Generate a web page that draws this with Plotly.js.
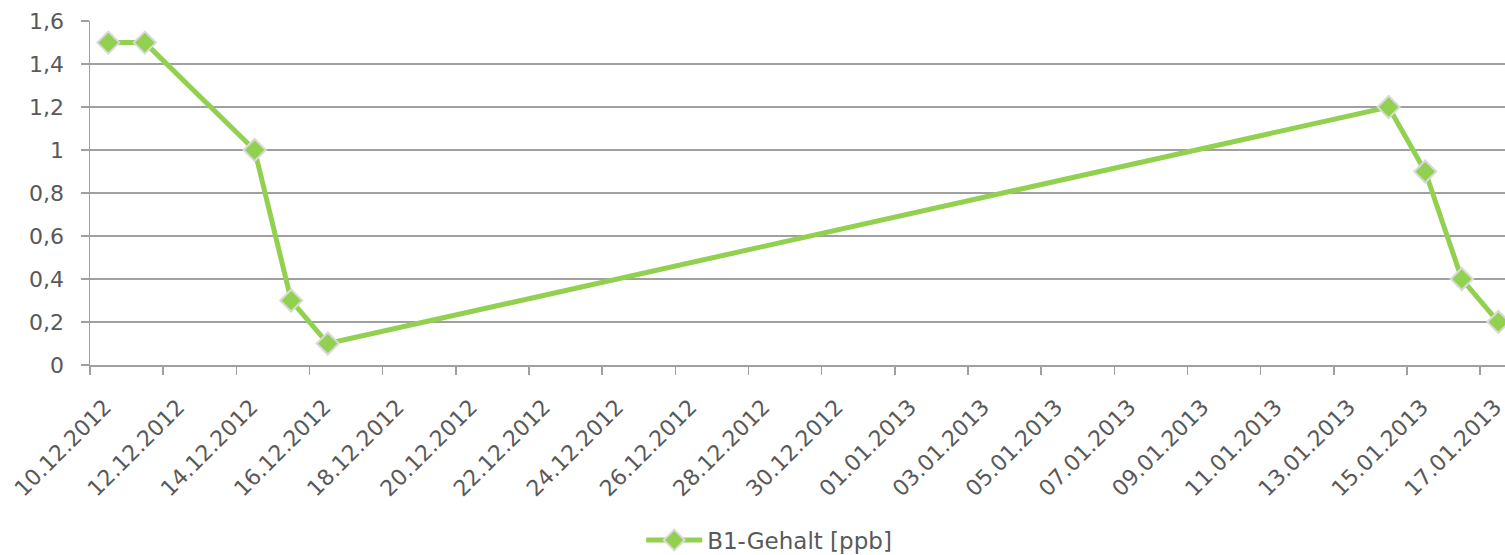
<!DOCTYPE html>
<html>
<head>
<meta charset="utf-8">
<script src="https://cdn.plot.ly/plotly-3.0.1.min.js"></script>
<style>html,body{margin:0;padding:0;background:#fff;}#chart{width:1505px;height:555px;}</style>
</head>
<body>
<div id="chart"></div>
<script>
// Sample dates (day centres) and B1 content values in ppb
const sampleDates = ["2012-12-10 12:00", "2012-12-11 12:00", "2012-12-14 12:00", "2012-12-15 12:00", "2012-12-16 12:00",
                     "2013-01-14 12:00", "2013-01-15 12:00", "2013-01-16 12:00", "2013-01-17 12:00"];
const b1Values = [1.5, 1.5, 1.0, 0.3, 0.1, 1.2, 0.9, 0.4, 0.2];
const seriesName = "B1-Gehalt [ppb]";
const yTickVals = [0, 0.2, 0.4, 0.6, 0.8, 1, 1.2, 1.4, 1.6];
const yTickText = ["0", "0,2", "0,4", "0,6", "0,8", "1", "1,2", "1,4", "1,6"];

const FONT = "'DejaVu Sans', Verdana, sans-serif";
const TXT = "#595959";
const GRID = "#a0a0a0";

const trace = {
  type: "scatter",
  mode: "lines+markers",
  name: seriesName,
  x: sampleDates,
  y: b1Values,
  line: {color: "#92D050", width: 5},
  marker: {symbol: "diamond", size: 17, color: "#92D050", line: {color: "#D9D9D9", width: 2}},
  cliponaxis: false
};

const layout = {
  width: 1505, height: 555,
  margin: {l: 90, r: 0, t: 21, b: 190, autoexpand: false},
  paper_bgcolor: "#fff", plot_bgcolor: "#fff",
  font: {family: FONT, size: 22, color: TXT},
  separators: ", ",
  showlegend: true,
  legend: {orientation: "h", x: 0.48, xanchor: "center", xref: "paper",
           y: 0.027, yanchor: "middle", yref: "container",
           font: {family: FONT, size: 23, color: TXT}, itemwidth: 56},
  xaxis: {
    type: "date",
    range: ["2012-12-10", "2013-01-17 16:20"],
    tick0: "2012-12-10", dtick: 172800000,
    tickformat: "%d.%m.%Y", tickangle: -45,
    ticks: "outside", ticklen: 8, tickcolor: GRID, tickwidth: 1.5,
    showline: true, linecolor: GRID, linewidth: 1.5,
    showgrid: false, zeroline: false, automargin: false,
    ticklabelstandoff: 11, ticklabelshift: 15, ticklabeloverflow: "allow",
    tickfont: {family: FONT, size: 22, color: TXT}
  },
  yaxis: {
    range: [0, 1.6005],
    tickmode: "array", tickvals: yTickVals, ticktext: yTickText,
    ticks: "outside", ticklen: 8, tickcolor: GRID, tickwidth: 1.5,
    showline: true, linecolor: GRID, linewidth: 1.5,
    showgrid: true, gridcolor: GRID, gridwidth: 1.5,
    zeroline: false, automargin: false,
    ticklabelstandoff: 12,
    tickfont: {family: FONT, size: 22, color: TXT}
  }
};

Plotly.newPlot("chart", [trace], layout, {displayModeBar: false, staticPlot: true});
</script>
</body>
</html>
